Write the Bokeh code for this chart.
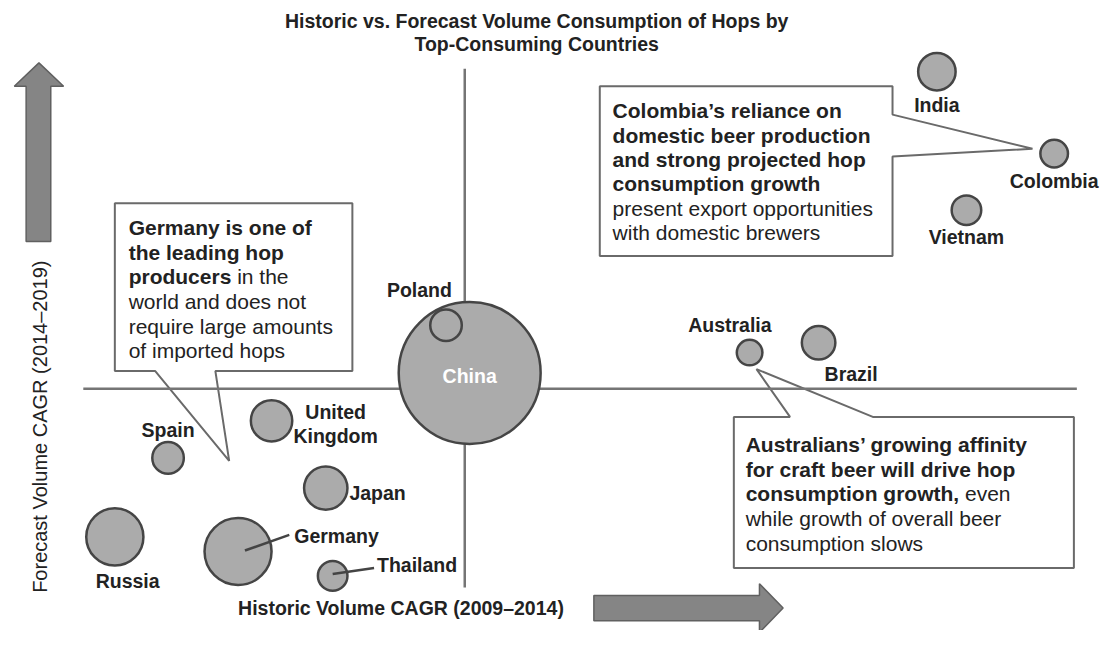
import math
from bokeh.plotting import figure
from bokeh.models import Range1d, ColumnDataSource
from bokeh.core.properties import value
from bokeh.embed import file_html
from bokeh.resources import INLINE

FONT = "Liberation Sans"
TXT = "#222222"

# ---------------- data ----------------
title_lines = ["Historic vs. Forecast Volume Consumption of Hops by",
               "Top-Consuming Countries"]
x_label = "Historic Volume CAGR (2009–2014)"
y_label = "Forecast Volume CAGR (2014–2019)"

countries = ["China", "Poland", "India", "Colombia", "Vietnam", "Australia", "Brazil",
             "United Kingdom", "Spain", "Japan", "Russia", "Germany", "Thailand"]
# chart units (horizontal: historic CAGR position, vertical: forecast CAGR position)
historic = [476, 452, 950, 1069, 980, 760, 830, 275, 170, 330, 116, 241, 337]
forecast = [382, 333, 73, 157, 215, 361, 351, 431, 469, 500, 550, 565, 590]
volume = [72, 16, 19, 14, 15, 13, 17, 21, 16, 22, 29, 34, 15]

label_text = ["Poland", "India", "Colombia", "Vietnam", "Australia", "Brazil",
              "United", "Kingdom", "Spain", "Japan", "Russia", "Germany", "Thailand"]
label_x = [425, 950, 1069, 980, 740, 863, 340, 340, 170, 354, 129, 298, 382]
label_y = [297, 107, 185, 243, 333, 383, 422, 447, 440, 505, 595, 549, 579]
label_align = ["center", "center", "center", "center", "center", "center",
               "center", "center", "center", "left", "center", "left", "left"]

germany_note = [[("Germany is one of", True)],
                [("the leading hop", True)],
                [("producers", True), ("in the", False)],
                [("world and does not", False)],
                [("require large amounts", False)],
                [("of imported hops", False)]]
colombia_note = [[("Colombia’s reliance on", True)],
                 [("domestic beer production", True)],
                 [("and strong projected hop", True)],
                 [("consumption growth", True)],
                 [("present export opportunities", False)],
                 [("with domestic brewers", False)]]
australia_note = [[("Australians’ growing affinity", True)],
                  [("for craft beer will drive hop", True)],
                  [("consumption growth,", True), ("even", False)],
                  [("while growth of overall beer", False)],
                  [("consumption slows", False)]]

# ---------------- figure ----------------
W, H = 1100, 630
p = figure(width=W, height=H, output_backend="svg", toolbar_location=None,
           x_range=Range1d(0, 1116), y_range=Range1d(646, 0),
           min_border=0, x_axis_location=None, y_axis_location=None)
p.grid.visible = False
p.outline_line_color = None
p.background_fill_color = "white"
p.border_fill_color = "white"

# arrows
p.patch([39, 64, 51, 51, 26, 26, 14], [64, 88, 88, 247, 247, 88, 88],
        fill_color="#858585", line_color="#606060", line_width=1.5)
p.patch([794, 770, 770, 602, 602, 770, 770], [623, 598, 610, 610, 636, 636, 648],
        fill_color="#858585", line_color="#606060", line_width=1.5)

# callout shapes
p.patch([116, 357, 357, 218, 232, 157, 116], [208, 208, 380, 380, 472, 380, 380],
        fill_color="white", line_color="#6a6a6a", line_width=2)
p.patch([608, 905, 905, 1047, 905, 905, 608], [88, 88, 117, 152, 160, 262, 262],
        fill_color="white", line_color="#6a6a6a", line_width=2)
p.patch([744, 801, 767, 885, 1089, 1089, 744], [427, 427, 378, 427, 427, 582, 582],
        fill_color="white", line_color="#6a6a6a", line_width=2)

# quadrant lines
p.line([471, 471], [70, 602], line_color="#757575", line_width=2.5)
p.line([84, 1092], [398, 398], line_color="#757575", line_width=2.5)

# bubbles
src = ColumnDataSource(dict(x=historic, y=forecast, r=volume, name=countries))
p.circle(x="x", y="y", radius="r", source=src, fill_color="#ababab",
         line_color="#454545", line_width=2.5)

# leader lines
p.line([248, 293], [564, 548], line_color="#444444", line_width=2.5)
p.line([337, 379], [588, 582], line_color="#444444", line_width=2.5)

# bold widths (Arial/Liberation Sans Bold, per 1000 em)
BW = {" ": 278, ",": 278, ".": 278, "’": 278, "a": 556, "b": 611, "c": 556, "d": 611,
      "e": 556, "f": 333, "g": 611, "h": 611, "i": 278, "l": 278, "m": 889, "n": 611,
      "o": 611, "p": 611, "r": 389, "s": 556, "t": 333, "u": 611, "w": 778, "y": 556}
SCALE = 1116 / 1100.0


def bold_width(s, fs):
    return sum(BW.get(c, 600) for c in s) / 1000.0 * fs * SCALE


def draw_note(lines, x0, y0, dy, fs=21):
    for i, segs in enumerate(lines):
        x = x0
        y = y0 + i * dy
        for txt, bold in segs:
            p.text(x=[x], y=[y], text=[txt], text_font=value(FONT),
                   text_font_size=f"{fs}px", text_color=TXT,
                   text_font_style="bold" if bold else "normal",
                   text_align="left", text_baseline="middle")
            x += bold_width(txt + " ", fs)


draw_note(germany_note, 130, 233, 25.2)
draw_note(colombia_note, 621, 113, 25.0)
draw_note(australia_note, 756, 455, 25.5)

# country labels
lsrc = ColumnDataSource(dict(x=label_x, y=label_y, t=label_text, a=label_align))
p.text(x="x", y="y", text="t", text_align="a", source=lsrc, text_font=value(FONT),
       text_font_size="19.5px", text_font_style="bold", text_color=TXT,
       text_baseline="middle")
p.text(x=[historic[0]], y=[forecast[0] + 3], text=["China"], text_font=value(FONT),
       text_font_size="19.5px", text_font_style="bold", text_color="white",
       text_align="center", text_baseline="middle")

# title
for i, t in enumerate(title_lines):
    p.text(x=[544], y=[21 + 24 * i], text=[t], text_font=value(FONT),
           text_font_size="19.5px", text_font_style="bold", text_color=TXT,
           text_align="center", text_baseline="middle")

# axis labels
p.text(x=[241], y=[623], text=[x_label], text_font=value(FONT), text_font_size="19.5px",
       text_font_style="bold", text_color=TXT, text_align="left", text_baseline="middle")
p.text(x=[40], y=[437], text=[y_label], text_font=value(FONT), text_font_size="20px",
       text_font_style="normal", text_color=TXT, text_align="center",
       text_baseline="middle", angle=math.pi / 2)

open("out.html", "w").write(file_html(p, INLINE))
